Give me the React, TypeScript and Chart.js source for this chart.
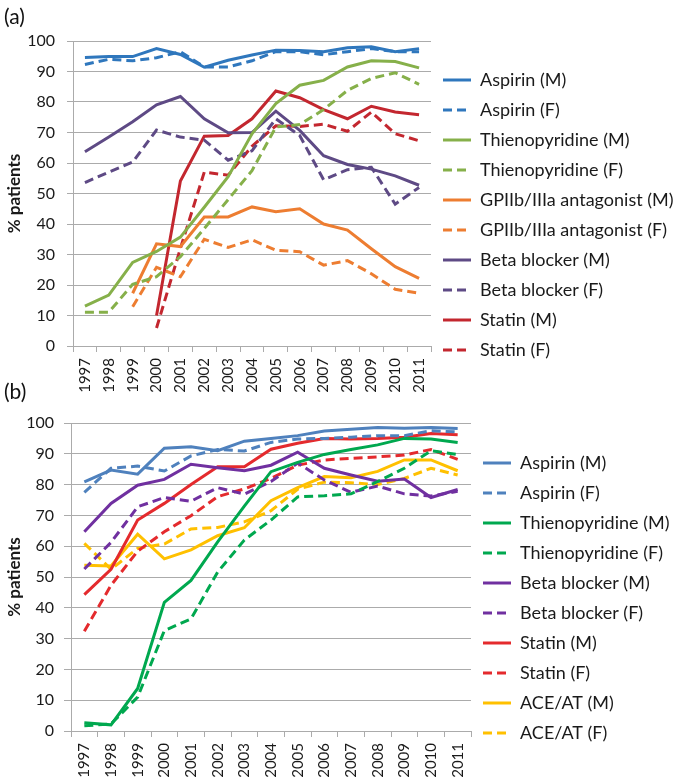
import React, { useEffect, useRef } from 'react';
import { Chart, registerables } from 'chart.js';

Chart.register(...registerables);

const years = ['1997', '1998', '1999', '2000', '2001', '2002', '2003', '2004', '2005', '2006', '2007', '2008', '2009', '2010', '2011'];
const yTicks = [0, 10, 20, 30, 40, 50, 60, 70, 80, 90, 100];

// ---- Panel (a) ----
const aspirinM_a = [94.6, 94.9, 94.9, 97.5, 95.6, 91.4, 93.7, 95.4, 97.0, 96.9, 96.5, 97.8, 98.1, 96.5, 97.5];
const aspirinF_a = [92.3, 94.0, 93.5, 94.5, 96.5, 91.5, 91.5, 93.5, 96.5, 96.5, 95.5, 96.5, 97.5, 96.5, 96.5];
const thienoM_a = [13.1, 16.7, 27.4, 31.0, 35.7, 45.5, 55.5, 69.6, 79.5, 85.5, 87.1, 91.5, 93.5, 93.3, 91.2];
const thienoF_a = [11.1, 11.1, 20.2, 22.7, 29.3, 38.5, 48.0, 57.5, 71.8, 72.6, 77.5, 83.8, 87.7, 89.6, 85.8];
const gpM_a = [null, null, 17.3, 33.5, 32.6, 42.3, 42.3, 45.6, 44.0, 45.0, 40.0, 38.0, 31.9, 26.0, 22.2];
const gpF_a = [null, null, 12.9, 25.8, 22.7, 35.0, 32.3, 34.8, 31.4, 30.9, 26.5, 28.0, 23.7, 18.6, 17.3];
const betaM_a = [63.7, 68.5, 73.5, 79.1, 81.8, 74.5, 69.9, 70.0, 77.0, 70.7, 62.4, 59.5, 58.0, 55.8, 52.7];
const betaF_a = [53.6, 57.0, 60.3, 70.8, 68.5, 67.5, 60.9, 64.0, 74.5, 69.0, 54.5, 57.8, 58.6, 46.5, 52.0];
const statinM_a = [null, null, null, 10.0, 54.1, 68.8, 69.0, 74.5, 83.6, 81.4, 77.5, 74.5, 78.6, 76.7, 75.8];
const statinF_a = [null, null, null, 5.9, 32.0, 57.0, 56.0, 65.5, 72.2, 72.0, 72.7, 70.4, 76.7, 69.6, 67.3];

// ---- Panel (b) ----
const aspirinM_b = [80.9, 84.7, 83.4, 91.8, 92.3, 91.0, 94.1, 95.0, 95.9, 97.4, 98.0, 98.5, 98.3, 98.5, 98.2];
const aspirinF_b = [77.5, 85.3, 86.0, 84.4, 89.3, 91.4, 90.9, 93.7, 94.8, 95.0, 95.4, 95.9, 95.9, 97.5, 97.1];
const thienoM_b = [2.7, 2.0, 13.8, 41.8, 48.9, 61.4, 73.0, 84.2, 87.2, 89.8, 91.4, 92.9, 95.0, 94.8, 93.7];
const thienoF_b = [1.7, 2.3, 11.0, 32.6, 36.4, 51.6, 62.0, 68.5, 76.0, 76.4, 77.0, 81.0, 85.3, 91.0, 89.8];
const betaM_b = [64.7, 73.9, 79.8, 81.7, 86.6, 85.5, 84.5, 86.3, 90.5, 85.3, 83.1, 81.1, 81.8, 75.8, 78.4];
const betaF_b = [52.6, 61.2, 72.8, 75.8, 74.6, 79.0, 76.9, 81.0, 87.0, 81.5, 77.5, 79.5, 77.0, 76.3, 77.8];
const statinM_b = [44.3, 52.5, 68.5, 73.9, 80.0, 85.8, 85.8, 91.5, 93.4, 95.0, 94.8, 95.0, 95.4, 96.6, 96.2];
const statinF_b = [32.4, 47.3, 58.4, 64.7, 69.9, 76.1, 78.6, 82.0, 86.3, 88.0, 88.5, 89.0, 89.6, 91.4, 88.2];
const aceM_b = [53.8, 53.6, 63.9, 55.9, 58.8, 63.4, 66.0, 74.8, 79.0, 82.6, 82.2, 84.3, 88.0, 88.0, 84.5];
const aceF_b = [60.9, 52.5, 59.3, 60.7, 65.6, 66.1, 67.9, 71.5, 78.5, 80.8, 80.6, 80.0, 82.0, 85.3, 83.1];

const seriesA = [
  { label: 'Aspirin (M)', data: aspirinM_a, color: '#2F77BD', dashed: false },
  { label: 'Aspirin (F)', data: aspirinF_a, color: '#2F77BD', dashed: true },
  { label: 'Thienopyridine (M)', data: thienoM_a, color: '#86B04A', dashed: false },
  { label: 'Thienopyridine (F)', data: thienoF_a, color: '#86B04A', dashed: true },
  { label: 'GPIIb/IIIa antagonist (M)', data: gpM_a, color: '#ED7D31', dashed: false },
  { label: 'GPIIb/IIIa antagonist (F)', data: gpF_a, color: '#ED7D31', dashed: true },
  { label: 'Beta blocker (M)', data: betaM_a, color: '#5E4A85', dashed: false },
  { label: 'Beta blocker (F)', data: betaF_a, color: '#5E4A85', dashed: true },
  { label: 'Statin (M)', data: statinM_a, color: '#C3272F', dashed: false },
  { label: 'Statin (F)', data: statinF_a, color: '#C3272F', dashed: true },
];

const seriesB = [
  { label: 'Aspirin (M)', data: aspirinM_b, color: '#4F81BD', dashed: false },
  { label: 'Aspirin (F)', data: aspirinF_b, color: '#4F81BD', dashed: true },
  { label: 'Thienopyridine (M)', data: thienoM_b, color: '#00A84F', dashed: false },
  { label: 'Thienopyridine (F)', data: thienoF_b, color: '#00A84F', dashed: true },
  { label: 'Beta blocker (M)', data: betaM_b, color: '#7030A0', dashed: false },
  { label: 'Beta blocker (F)', data: betaF_b, color: '#7030A0', dashed: true },
  { label: 'Statin (M)', data: statinM_b, color: '#E42A2D', dashed: false },
  { label: 'Statin (F)', data: statinF_b, color: '#E42A2D', dashed: true },
  { label: 'ACE/AT (M)', data: aceM_b, color: '#FFC000', dashed: false },
  { label: 'ACE/AT (F)', data: aceF_b, color: '#FFC000', dashed: true },
];

const FONT = 'Lato, "Open Sans", sans-serif';
const GRID = '#ABABAB';
const TEXT = '#1a1a1a';
const DASH = [9, 5];

type Panel = {
  series: typeof seriesA;
  width: number;
  height: number;
  padTop: number;
  padBottom: number;
  yAxisWidth: number;
  xAxisHeight: number;
  legendWidth: number;
  legendOffset: number;
  yTickLen: number;
  yTickPad: number;
};

function buildConfig(p: Panel): any {
  return {
    type: 'line',
    data: {
      labels: years,
      datasets: p.series.map((s) => ({
        label: s.label,
        data: s.data,
        borderColor: s.color,
        backgroundColor: s.color,
        borderWidth: 3,
        borderDash: s.dashed ? DASH : [],
        pointRadius: 0,
        pointHoverRadius: 0,
        tension: 0,
        fill: false,
        spanGaps: false,
      })),
    },
    options: {
      responsive: false,
      animation: false,
      events: [],
      layout: { padding: { top: p.padTop, bottom: p.padBottom, left: 0, right: 0 } },
      scales: {
        x: {
          type: 'category',
          offset: true,
          grid: { offset: true, drawOnChartArea: false, drawTicks: true, tickLength: 6, color: GRID },
          border: { color: GRID },
          ticks: {
            autoSkip: false,
            minRotation: 90,
            maxRotation: 90,
            padding: 6,
            color: TEXT,
            font: { family: FONT, size: 15 },
          },
          afterFit: (s: any) => { s.height = p.xAxisHeight; },
        },
        y: {
          min: 0,
          max: 100,
          afterBuildTicks: (s: any) => { s.ticks = yTicks.map((v) => ({ value: v })); },
          ticks: { padding: p.yTickPad, color: TEXT, font: { family: FONT, size: 16 } },
          grid: { color: GRID, tickLength: p.yTickLen },
          border: { color: GRID },
          title: {
            display: true,
            text: '% patients',
            color: TEXT,
            font: { family: FONT, size: 17, weight: 'bold' },
            padding: { top: 4, bottom: 4 },
          },
          afterFit: (s: any) => { s.width = p.yAxisWidth; },
        },
      },
      plugins: {
        tooltip: { enabled: false },
        title: { display: false },
        legend: {
          display: true,
          position: 'right',
          align: 'start',
          fullSize: true,
          maxWidth: p.legendWidth,
          title: { display: true, text: '', font: { size: 10 }, padding: { top: p.legendOffset, bottom: 0 } },
          labels: {
            usePointStyle: true,
            pointStyle: 'line',
            pointStyleWidth: 28,
            padding: 12,
            color: TEXT,
            font: { family: FONT, size: 18 },
            generateLabels: (chart: any) => {
              const items = Chart.defaults.plugins.legend.labels.generateLabels(chart);
              return items.map((it: any) => {
                const ds = chart.data.datasets[it.datasetIndex];
                return { ...it, lineDash: ds.borderDash, lineWidth: 3, strokeStyle: ds.borderColor, pointStyle: 'line' };
              });
            },
          },
        },
      },
    },
  };
}

function LineChart({ panel, top }: { panel: Panel; top: number }) {
  const ref = useRef<HTMLCanvasElement | null>(null);
  useEffect(() => {
    if (!ref.current) return;
    const chart = new Chart(ref.current, buildConfig(panel));
    return () => chart.destroy();
  }, [panel]);
  return (
    <canvas
      ref={ref}
      width={panel.width}
      height={panel.height}
      style={{ position: 'absolute', left: 0, top, width: panel.width, height: panel.height }}
    />
  );
}

const panelA: Panel = {
  series: seriesA,
  width: 675,
  height: 396,
  padTop: 41,
  padBottom: 0,
  yAxisWidth: 73,
  xAxisHeight: 50,
  legendWidth: 675 - 431,
  legendOffset: 6,
  yTickLen: 6,
  yTickPad: 12,
};

const panelB: Panel = {
  series: seriesB,
  width: 675,
  height: 389,
  padTop: 28,
  padBottom: 3,
  yAxisWidth: 71,
  xAxisHeight: 50,
  legendWidth: 675 - 471,
  legendOffset: 7,
  yTickLen: 7,
  yTickPad: 10,
};

export default function App() {
  const labelStyle: React.CSSProperties = {
    position: 'absolute',
    left: 4,
    fontFamily: FONT,
    fontSize: 21,
    color: '#111',
    lineHeight: '24px',
    zIndex: 2,
  };
  return (
    <div style={{ position: 'absolute', left: 0, top: 0, width: 675, height: 784, background: '#fff', overflow: 'hidden' }}>
      <LineChart panel={panelA} top={0} />
      <LineChart panel={panelB} top={395} />
      <div style={{ ...labelStyle, top: 4 }}>(a)</div>
      <div style={{ ...labelStyle, top: 379 }}>(b)</div>
    </div>
  );
}
